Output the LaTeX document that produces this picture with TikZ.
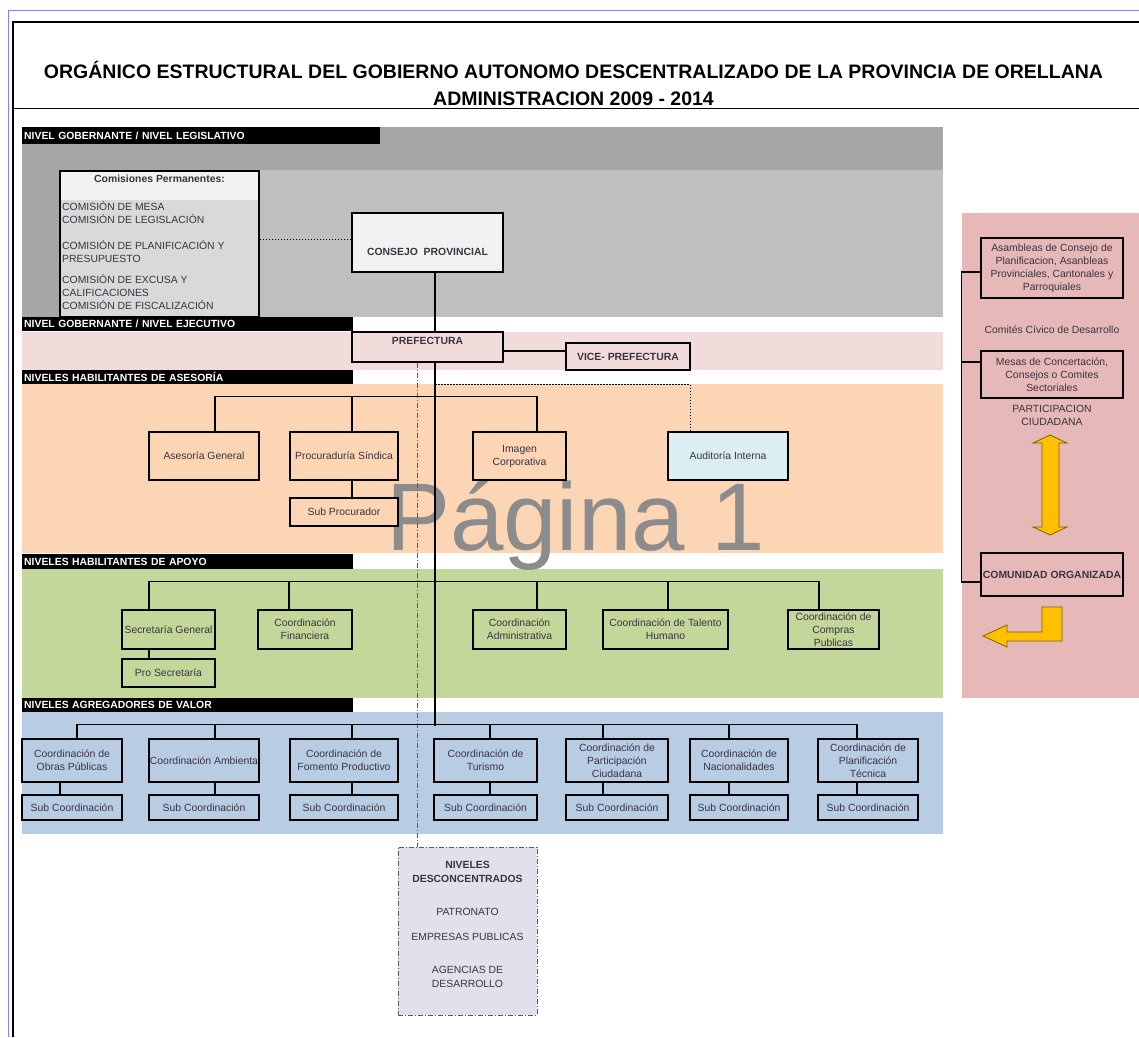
\documentclass[tikz,border=0pt]{standalone}
\usepackage{fontspec}
\setmainfont{Liberation Sans}
\definecolor{ink}{HTML}{3A3340}
\definecolor{greydark}{HTML}{A6A6A6}
\definecolor{greylight}{HTML}{BFBFBF}
\definecolor{paper}{HTML}{F2F2F2}
\definecolor{commis}{HTML}{D9D9D9}
\definecolor{rose}{HTML}{F2DCDB}
\definecolor{peach}{HTML}{FCD5B4}
\definecolor{olive}{HTML}{C4D79B}
\definecolor{sky}{HTML}{B8CCE4}
\definecolor{ice}{HTML}{DAEEF3}
\definecolor{civic}{HTML}{E6B9B8}
\definecolor{lilac}{HTML}{E4DFEC}
\definecolor{amber}{HTML}{FFC000}
\definecolor{amberline}{HTML}{7F6000}
\definecolor{frameblue}{HTML}{7F7FFF}
\definecolor{stamp}{HTML}{8C8C8C}
\definecolor{dashgrey}{HTML}{595959}

\begin{document}
\begin{tikzpicture}[x=1pt, y=-1pt,
  font=\fontsize{10.4}{13}\selectfont, every node/.style={text=ink},
  orgbox/.style={draw=black, line width=1.3pt, align=center, inner sep=1pt},
  bold/.style={font=\fontsize{10.4}{13}\selectfont\bfseries},
  tag/.style={fill=black, text=white, anchor=north west, inner xsep=2pt, inner ysep=0pt,
    align=left, font=\fontsize{10.4}{12}\selectfont\bfseries},
  link/.style={line width=1.2pt},
  dotline/.style={line width=0.8pt, dash pattern=on 1.5pt off 1.5pt},
  dashdot/.style={line width=0.9pt, draw=dashgrey, dash pattern=on 5pt off 2pt on 1pt off 2pt}]
  \useasboundingbox (0,0) rectangle (1139,1037);
  \fill[white] (0,0) rectangle (1139,1037);

  % Sheet frame and title.
  \draw[frameblue, line width=0.8pt] (8,1037) -- (8,10) -- (1139,10);
  \draw[line width=1.5pt] (13,1037) -- (13,22) -- (1139,22);
  \draw[line width=1pt] (13,108) -- (1139,108);
  \node[text=black, font=\fontsize{19.5}{22}\selectfont\bfseries] (title) at (573.5,70)
    {ORGÁNICO ESTRUCTURAL DEL GOBIERNO AUTONOMO DESCENTRALIZADO DE LA PROVINCIA DE ORELLANA};
  \node[text=black, font=\fontsize{19.5}{22}\selectfont\bfseries] (subtitle) at (573.5,99)
    {ADMINISTRACION 2009 - 2014};

  % Coloured level bands and the citizen panel.
  \fill[greydark] (22,127) rectangle (943,317);
  \fill[greylight] (60,170) rectangle (943,317);
  \fill[rose] (22,332) rectangle (943,370);
  \fill[peach] (22,384) rectangle (943,553);
  \fill[olive] (22,569) rectangle (943,698);
  \fill[sky] (22,712) rectangle (943,834);
  \fill[civic] (962,213) rectangle (1139,698);

  \node[tag, minimum height=17pt, text width=354pt] (lvl-leg) at (22,127) {NIVEL GOBERNANTE / NIVEL LEGISLATIVO};
  \node[tag, minimum height=14pt, text width=327pt] (lvl-eje) at (22,317) {NIVEL GOBERNANTE / NIVEL EJECUTIVO};
  \node[tag, minimum height=14pt, text width=327pt] (lvl-ase) at (22,370) {NIVELES HABILITANTES DE ASESORÍA};
  \node[tag, minimum height=15pt, text width=327pt] (lvl-apo) at (22,554) {NIVELES HABILITANTES DE APOYO};
  \node[tag, minimum height=14pt, text width=327pt] (lvl-agr) at (22,698) {NIVELES AGREGADORES DE VALOR};

  % Page watermark behind the chart.
  \node[text=stamp, font=\fontsize{96}{100}\selectfont, anchor=base west, inner sep=0pt] (watermark) at (386,550) {Página 1};

  % Legislative level.
  \node[draw=black, line width=1.3pt, fill=commis, minimum width=199pt, minimum height=146pt,
    path picture={\fill[paper] (path picture bounding box.north west) rectangle ([yshift=-29pt]path picture bounding box.north east);}]
    (comisiones) at (159.5,244) {};
  \node[bold] (com-title) at (159.5,179) {Comisiones Permanentes:};
  \node[anchor=west, align=left, inner sep=0pt] (com-a) at (62,213) {COMISIÓN DE MESA\\COMISIÓN DE LEGISLACIÓN};
  \node[anchor=west, align=left, inner sep=0pt] (com-b) at (62,252) {COMISIÓN DE PLANIFICACIÓN Y\\PRESUPUESTO};
  \node[anchor=west, align=left, inner sep=0pt] (com-c) at (62,292) {COMISIÓN DE EXCUSA Y\\CALIFICACIONES\\COMISIÓN DE FISCALIZACIÓN};
  \node[orgbox, bold, fill=paper, minimum width=151pt, minimum height=59pt, text height=28pt, text depth=2.5pt]
    (consejo) at (427.5,242.5) {CONSEJO\ \ PROVINCIAL};

  % Executive level.
  \node[orgbox, bold, fill=rose, minimum width=151pt, minimum height=30pt, text height=7.2pt, text depth=13.2pt]
    (prefectura) at (427.5,347) {PREFECTURA};
  \node[orgbox, bold, fill=rose, minimum width=124pt, minimum height=27pt] (vice) at (628,356.5) {VICE- PREFECTURA};

  % Advisory level.
  \node[orgbox, fill=peach, minimum width=110pt, minimum height=48pt] (asesoria) at (204,456) {Asesoría General};
  \node[orgbox, fill=peach, minimum width=108pt, minimum height=48pt] (sindica) at (344,456) {Procuraduría Síndica};
  \node[orgbox, fill=peach, minimum width=108pt, minimum height=28pt] (subprocurador) at (344,512) {Sub Procurador};
  \node[orgbox, fill=peach, minimum width=93pt, minimum height=48pt] (imagen) at (519.5,456) {Imagen\\Corporativa};
  \node[orgbox, fill=ice, minimum width=120pt, minimum height=48pt] (auditoria) at (728,456) {Auditoría Interna};

  % Support level.
  \node[orgbox, fill=olive, minimum width=93pt, minimum height=39pt] (secretaria) at (168.5,629.5) {Secretaría General};
  \node[orgbox, fill=olive, minimum width=93pt, minimum height=28pt] (prosecretaria) at (168.5,673) {Pro Secretaría};
  \node[orgbox, fill=olive, minimum width=94pt, minimum height=39pt] (financiera) at (305,629.5) {Coordinación\\Financiera};
  \node[orgbox, fill=olive, minimum width=93pt, minimum height=39pt] (administrativa) at (519.5,629.5) {Coordinación\\Administrativa};
  \node[orgbox, fill=olive, minimum width=125pt, minimum height=39pt] (talento) at (665.5,629.5) {Coordinación de Talento\\Humano};
  \node[orgbox, fill=olive, minimum width=91pt, minimum height=39pt] (compras) at (833.5,629.5) {Coordinación de\\Compras\\Publicas};

  % Value-adding level.
  \node[orgbox, fill=sky, minimum width=100pt, minimum height=43pt] (obras) at (72,760.5) {Coordinación de\\Obras Públicas};
  \node[orgbox, fill=sky, minimum width=110pt, minimum height=43pt] (ambiental) at (204,760.5) {Coordinación Ambienta};
  \node[orgbox, fill=sky, minimum width=108pt, minimum height=43pt] (fomento) at (344,760.5) {Coordinación de\\Fomento Productivo};
  \node[orgbox, fill=sky, minimum width=103pt, minimum height=43pt] (turismo) at (485.5,760.5) {Coordinación de\\Turismo};
  \node[orgbox, fill=sky, minimum width=102pt, minimum height=43pt] (participacion) at (617,760.5) {Coordinación de\\Participación\\Ciudadana};
  \node[orgbox, fill=sky, minimum width=98pt, minimum height=43pt] (nacionalidades) at (739,760.5) {Coordinación de\\Nacionalidades};
  \node[orgbox, fill=sky, minimum width=100pt, minimum height=43pt] (planificacion) at (868,760.5) {Coordinación de\\Planificación\\Técnica};
  \foreach \n/\cx/\w in {obras/72/100, ambiental/204/110, fomento/344/108, turismo/485.5/103,
      participacion/617/102, nacionalidades/739/98, planificacion/868/100}
    \node[orgbox, fill=sky, minimum width=\w pt, minimum height=25pt] (sub-\n) at (\cx,807.5) {Sub Coordinación};

  % Deconcentrated units.
  \node[dashdot, fill=lilac, minimum width=139pt, minimum height=168pt] (desconcentrados) at (467.5,931) {};
  \node[align=center, font=\fontsize{10.4}{14}\selectfont] (descon-list) at (467.5,924.5)
    {\textbf{NIVELES}\\\textbf{DESCONCENTRADOS}\\[19pt]PATRONATO\\[11pt]EMPRESAS PUBLICAS\\[19pt]AGENCIAS DE\\DESARROLLO};

  % Citizen participation panel.
  \node[orgbox, fill=civic, minimum width=142pt, minimum height=60pt] (asambleas) at (1052,268)
    {Asambleas de Consejo de\\Planificacion, Asanbleas\\Provinciales, Cantonales y\\Parroquiales};
  \node (comites) at (1052,330) {Comités Cívico de Desarrollo};
  \node[orgbox, fill=civic, minimum width=142pt, minimum height=47pt] (mesas) at (1052,374.5)
    {Mesas de Concertación,\\Consejos o Comites\\Sectoriales};
  \node[align=center] (participa) at (1052,415.5) {PARTICIPACION\\CIUDADANA};
  \node[orgbox, bold, fill=civic, minimum width=142pt, minimum height=43pt] (comunidad) at (1052,574.5) {COMUNIDAD ORGANIZADA};
  \filldraw[fill=amber, draw=amberline, line width=0.8pt] (1050,435) -- (1067,443) -- (1059,443) -- (1059,527)
    -- (1067,527) -- (1050,535) -- (1033,527) -- (1042,527) -- (1042,443) -- (1033,443) -- cycle;
  \filldraw[fill=amber, draw=amberline, line width=0.8pt] (1062,607) -- (1062,641) -- (1007,641) -- (1007,647)
    -- (983,636) -- (1007,625) -- (1007,632) -- (1042,632) -- (1042,607) -- cycle;

  % Connectors.
  \draw[dotline] ([yshift=3.5pt]consejo.west) -- ([yshift=3.5pt]consejo.west -| comisiones.east);
  \draw[link] ([xshift=7.5pt]consejo.south) -- ([xshift=7.5pt]prefectura.north);
  \draw[link] ([xshift=7.5pt]prefectura.south) -- ++(0,363);
  \draw[link] ([yshift=-4pt]prefectura.east) -- ([yshift=-4pt]prefectura.east -| vice.west);
  \draw[dotline] ([xshift=7.5pt,yshift=-22pt]prefectura.south) -| ([xshift=-38pt]auditoria.north);
  \draw[dashdot] ([xshift=-10.5pt]prefectura.south) -- ([xshift=-10.5pt]prefectura.south |- desconcentrados.north);

  \draw[link] ([xshift=11pt]asesoria.north) -- ++(0,-35) -| ([xshift=17.5pt]imagen.north);
  \draw[link] ([xshift=8pt]sindica.north) -- ++(0,-35);
  \draw[link] ([xshift=8pt]sindica.south) -- ([xshift=8pt]subprocurador.north);

  \draw[link] ([xshift=-19.5pt]secretaria.north) -- ++(0,-28) -| ([xshift=-14.5pt]compras.north);
  \foreach \n/\dx in {financiera/-16, administrativa/17.5, talento/2.5}
    \draw[link] ([xshift=\dx pt]\n.north) -- ++(0,-28);
  \draw[link] ([xshift=-19.5pt]secretaria.south) -- ([xshift=-19.5pt]prosecretaria.north);

  \draw[link] ([xshift=5pt]obras.north) -- ++(0,-14) -| ([xshift=-11pt]planificacion.north);
  \foreach \n/\dx in {ambiental/11, fomento/8, turismo/4.5, participacion/-14, nacionalidades/-10}
    \draw[link] ([xshift=\dx pt]\n.north) -- ++(0,-14);
  \foreach \n/\dx in {obras/-12, ambiental/11, fomento/8, turismo/4.5, participacion/-14,
      nacionalidades/-10, planificacion/-11}
    \draw[link] ([xshift=\dx pt]\n.south) -- ([xshift=\dx pt]sub-\n.north);

  \draw[link] ([yshift=-4pt]asambleas.west) -- ++(-19,0) |- ([yshift=-7.5pt]comunidad.west);
  \draw[link] ([yshift=12.5pt]mesas.west) -- ++(-19,0);
\end{tikzpicture}
\end{document}
